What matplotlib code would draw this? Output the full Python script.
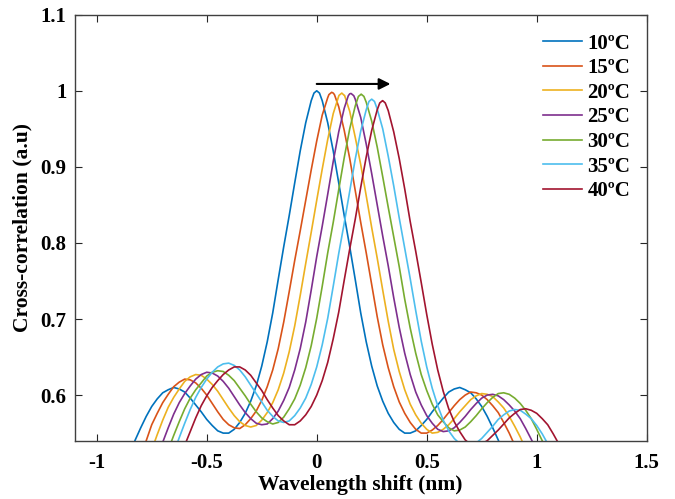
import numpy as np
import matplotlib.pyplot as plt

plt.rcParams["font.family"] = ["Liberation Serif", "DejaVu Serif"]
plt.rcParams["font.weight"] = "bold"

nan = np.nan

# wavelength shift sampling (nm)
SHIFT_NM = [
    -0.850, -0.825, -0.800, -0.775, -0.750, -0.725, -0.700, -0.675, -0.650, -0.625,
    -0.600, -0.575, -0.550, -0.525, -0.500, -0.475, -0.450, -0.425, -0.400, -0.375,
    -0.350, -0.325, -0.300, -0.275, -0.250, -0.225, -0.200, -0.175, -0.150, -0.125,
    -0.100, -0.075, -0.050, -0.025, 0.000, 0.025, 0.050, 0.075, 0.100, 0.125,
    0.150, 0.175, 0.200, 0.225, 0.250, 0.275, 0.300, 0.325, 0.350, 0.375,
    0.400, 0.425, 0.450, 0.475, 0.500, 0.525, 0.550, 0.575, 0.600, 0.625,
    0.650, 0.675, 0.700, 0.725, 0.750, 0.775, 0.800, 0.825, 0.850, 0.875,
    0.900, 0.925, 0.950, 0.975, 1.000, 1.025, 1.050, 1.075, 1.100,
]

XCORR_10C = [
    0.523, 0.541, 0.557, 0.572, 0.585, 0.595, 0.603, 0.607, 0.610, 0.608,
    0.604, 0.596, 0.587, 0.578, 0.568, 0.560, 0.553, 0.550, 0.550, 0.555,
    0.564, 0.576, 0.592, 0.612, 0.638, 0.670, 0.708, 0.752, 0.795, 0.836,
    0.879, 0.921, 0.958, 0.987, 1.000, 0.987, 0.958, 0.921, 0.879, 0.836,
    0.795, 0.752, 0.708, 0.670, 0.638, 0.612, 0.592, 0.576, 0.564, 0.555,
    0.550, 0.550, 0.553, 0.560, 0.568, 0.578, 0.587, 0.596, 0.604, 0.608,
    0.610, 0.607, 0.603, 0.595, 0.585, 0.572, 0.557, 0.541, 0.523, nan,
    nan, nan, nan, nan, nan, nan, nan, nan, nan,
]

XCORR_15C = [
    nan, nan, 0.520, 0.540, 0.561, 0.576, 0.590, 0.601, 0.611, 0.617,
    0.621, 0.620, 0.616, 0.609, 0.600, 0.589, 0.578, 0.568, 0.561, 0.557,
    0.556, 0.561, 0.569, 0.579, 0.593, 0.611, 0.633, 0.661, 0.696, 0.736,
    0.777, 0.816, 0.856, 0.896, 0.934, 0.968, 0.991, 0.997, 0.979, 0.948,
    0.911, 0.869, 0.827, 0.787, 0.745, 0.703, 0.666, 0.636, 0.611, 0.591,
    0.576, 0.564, 0.555, 0.550, 0.550, 0.554, 0.560, 0.568, 0.577, 0.586,
    0.594, 0.600, 0.604, 0.603, 0.600, 0.594, 0.586, 0.577, 0.564, 0.550,
    0.534, nan, nan, nan, nan, nan, nan, nan, nan,
]

XCORR_20C = [
    nan, nan, nan, nan, 0.528, 0.548, 0.567, 0.584, 0.597, 0.608,
    0.618, 0.624, 0.627, 0.626, 0.621, 0.614, 0.605, 0.594, 0.583, 0.573,
    0.565, 0.560, 0.558, 0.560, 0.567, 0.577, 0.590, 0.607, 0.629, 0.657,
    0.691, 0.731, 0.773, 0.814, 0.856, 0.897, 0.936, 0.970, 0.993, 0.994,
    0.973, 0.939, 0.903, 0.862, 0.820, 0.780, 0.738, 0.697, 0.660, 0.631,
    0.607, 0.588, 0.574, 0.563, 0.555, 0.550, 0.551, 0.555, 0.561, 0.569,
    0.578, 0.586, 0.594, 0.599, 0.602, 0.601, 0.598, 0.591, 0.583, 0.572,
    0.559, 0.545, 0.529, nan, nan, nan, nan, nan, nan,
]

XCORR_25C = [
    nan, nan, nan, nan, nan, 0.518, 0.538, 0.557, 0.575, 0.590,
    0.602, 0.612, 0.621, 0.627, 0.630, 0.629, 0.625, 0.618, 0.609, 0.598,
    0.587, 0.577, 0.569, 0.563, 0.561, 0.562, 0.569, 0.579, 0.593, 0.610,
    0.633, 0.661, 0.696, 0.738, 0.782, 0.822, 0.864, 0.907, 0.946, 0.977,
    0.996, 0.989, 0.965, 0.930, 0.891, 0.850, 0.809, 0.770, 0.728, 0.689,
    0.655, 0.627, 0.604, 0.587, 0.573, 0.563, 0.555, 0.552, 0.553, 0.557,
    0.564, 0.572, 0.581, 0.589, 0.596, 0.600, 0.601, 0.599, 0.594, 0.587,
    0.579, 0.569, 0.556, 0.542, 0.527, nan, nan, nan, nan,
]

XCORR_30C = [
    nan, nan, nan, nan, nan, nan, nan, 0.528, 0.547, 0.565,
    0.582, 0.596, 0.607, 0.616, 0.625, 0.630, 0.632, 0.631, 0.626, 0.619,
    0.609, 0.599, 0.588, 0.578, 0.570, 0.565, 0.562, 0.564, 0.571, 0.582,
    0.595, 0.613, 0.636, 0.665, 0.701, 0.743, 0.787, 0.827, 0.870, 0.912,
    0.950, 0.980, 0.995, 0.985, 0.960, 0.926, 0.887, 0.847, 0.808, 0.769,
    0.726, 0.688, 0.655, 0.627, 0.606, 0.588, 0.574, 0.565, 0.557, 0.553,
    0.554, 0.558, 0.565, 0.573, 0.582, 0.590, 0.597, 0.602, 0.603, 0.601,
    0.596, 0.589, 0.580, 0.569, 0.555, 0.540, 0.524, nan, nan,
]

XCORR_35C = [
    nan, nan, nan, nan, nan, nan, nan, nan, 0.524, 0.544,
    0.563, 0.581, 0.597, 0.610, 0.621, 0.630, 0.637, 0.641, 0.642, 0.639,
    0.633, 0.624, 0.613, 0.602, 0.591, 0.580, 0.572, 0.566, 0.564, 0.566,
    0.573, 0.583, 0.596, 0.614, 0.637, 0.666, 0.701, 0.743, 0.786, 0.826,
    0.868, 0.910, 0.947, 0.975, 0.989, 0.976, 0.950, 0.914, 0.875, 0.833,
    0.793, 0.753, 0.711, 0.671, 0.637, 0.609, 0.586, 0.567, 0.553, 0.543,
    0.536, 0.532, 0.533, 0.537, 0.543, 0.551, 0.559, 0.568, 0.574, 0.579,
    0.581, 0.580, 0.575, 0.569, 0.560, 0.549, 0.536, 0.524, nan,
]

XCORR_40C = [
    nan, nan, nan, nan, nan, nan, nan, nan, nan, 0.514,
    0.534, 0.552, 0.570, 0.586, 0.599, 0.610, 0.619, 0.627, 0.633, 0.637,
    0.637, 0.633, 0.626, 0.616, 0.606, 0.594, 0.583, 0.573, 0.566, 0.561,
    0.561, 0.566, 0.574, 0.585, 0.600, 0.619, 0.643, 0.674, 0.709, 0.751,
    0.792, 0.831, 0.873, 0.913, 0.948, 0.975, 0.987, 0.974, 0.946, 0.911,
    0.871, 0.828, 0.789, 0.748, 0.706, 0.667, 0.633, 0.605, 0.582, 0.565,
    0.552, 0.541, 0.535, 0.534, 0.536, 0.540, 0.547, 0.554, 0.562, 0.570,
    0.576, 0.581, 0.582, 0.580, 0.576, 0.569, 0.561, 0.549, 0.536,
]

# extra samples around each main peak (shift, value)
CREST_SHIFT = [
    [-0.0125, 0.000, 0.0125],
    [0.0555, 0.068, 0.0805],
    [0.1015, 0.114, 0.1265],
    [0.1435, 0.156, 0.1685],
    [0.1895, 0.202, 0.2145],
    [0.2375, 0.250, 0.2625],
    [0.2865, 0.299, 0.3115],
]
CREST_XCORR = [
    [0.997, 1.000, 0.997],
    [0.995, 0.998, 0.995],
    [0.994, 0.997, 0.994],
    [0.9935, 0.9965, 0.9935],
    [0.9926, 0.9956, 0.9926],
    [0.986, 0.989, 0.986],
    [0.984, 0.987, 0.984],
]

LABELS = ["10ºC", "15ºC", "20ºC", "25ºC", "30ºC", "35ºC", "40ºC"]
SERIES = [XCORR_10C, XCORR_15C, XCORR_20C, XCORR_25C, XCORR_30C, XCORR_35C, XCORR_40C]

# MATLAB default line order
COLORS = ["#0072BD", "#D95319", "#EDB120", "#7E2F8E", "#77AC30", "#4DBEEE", "#A2142F"]

X_TICKS = [-1, -0.5, 0, 0.5, 1, 1.5]
X_TICKLABELS = ["-1", "-0.5", "0", "0.5", "1", "1.5"]
Y_TICKS = [0.6, 0.7, 0.8, 0.9, 1.0, 1.1]
Y_TICKLABELS = ["0.6", "0.7", "0.8", "0.9", "1", "1.1"]

# shift direction arrow, from the 10ºC peak towards higher temperature
ARROW_START = (0.0, 1.009)
ARROW_END = (0.335, 1.009)


def merged_curve(grid, vals, cx, cy):
    """Grid samples plus the crest samples, sorted by shift."""
    grid = np.asarray(grid, dtype=float)
    vals = np.asarray(vals, dtype=float)
    assert len(grid) == len(vals)
    keep = ~np.isclose(grid[:, None], np.asarray(cx)[None, :]).any(axis=1)
    x = np.concatenate([grid[keep], cx])
    y = np.concatenate([vals[keep], cy])
    order = np.argsort(x)
    return x[order], y[order]


def main():
    fig = plt.figure(figsize=(6.75, 4.99), dpi=100)
    ax = fig.add_axes([0.1107, 0.1168, 0.8474, 0.8537])

    for i, (vals, lab, col) in enumerate(zip(SERIES, LABELS, COLORS)):
        x, y = merged_curve(SHIFT_NM, vals, CREST_SHIFT[i], CREST_XCORR[i])
        ax.plot(x, y, color=col, lw=1.2, label=lab)

    ax.annotate("", xy=ARROW_END, xytext=ARROW_START,
                arrowprops=dict(arrowstyle="-|>", color="black", lw=1.5,
                                mutation_scale=17, shrinkA=0, shrinkB=0))

    ax.set_xlim(-1.1, 1.5)
    ax.set_ylim(0.54, 1.1)
    ax.set_xticks(X_TICKS)
    ax.set_xticklabels(X_TICKLABELS)
    ax.set_yticks(Y_TICKS)
    ax.set_yticklabels(Y_TICKLABELS)
    ax.tick_params(direction="in", length=5, width=0.8, top=True, right=True,
                   labelsize=15, colors="#262626", labelcolor="black")
    ax.tick_params(axis="x", pad=9)
    ax.tick_params(axis="y", pad=6)
    for s in ax.spines.values():
        s.set_color("#404040")
        s.set_linewidth(1.0)

    ax.set_xlabel("Wavelength shift (nm)", fontsize=15.5, fontweight="bold", labelpad=1)
    ax.set_ylabel("Cross-correlation (a.u)", fontsize=15.5, fontweight="bold", labelpad=6)

    ax.legend(loc="upper right", bbox_to_anchor=(0.993, 0.985), frameon=False,
              fontsize=15, handlelength=1.9, handletextpad=0.25,
              labelspacing=0.22, borderaxespad=0.2)

    fig.savefig("out.png", dpi=100)
    plt.close(fig)


if __name__ == "__main__":
    main()
